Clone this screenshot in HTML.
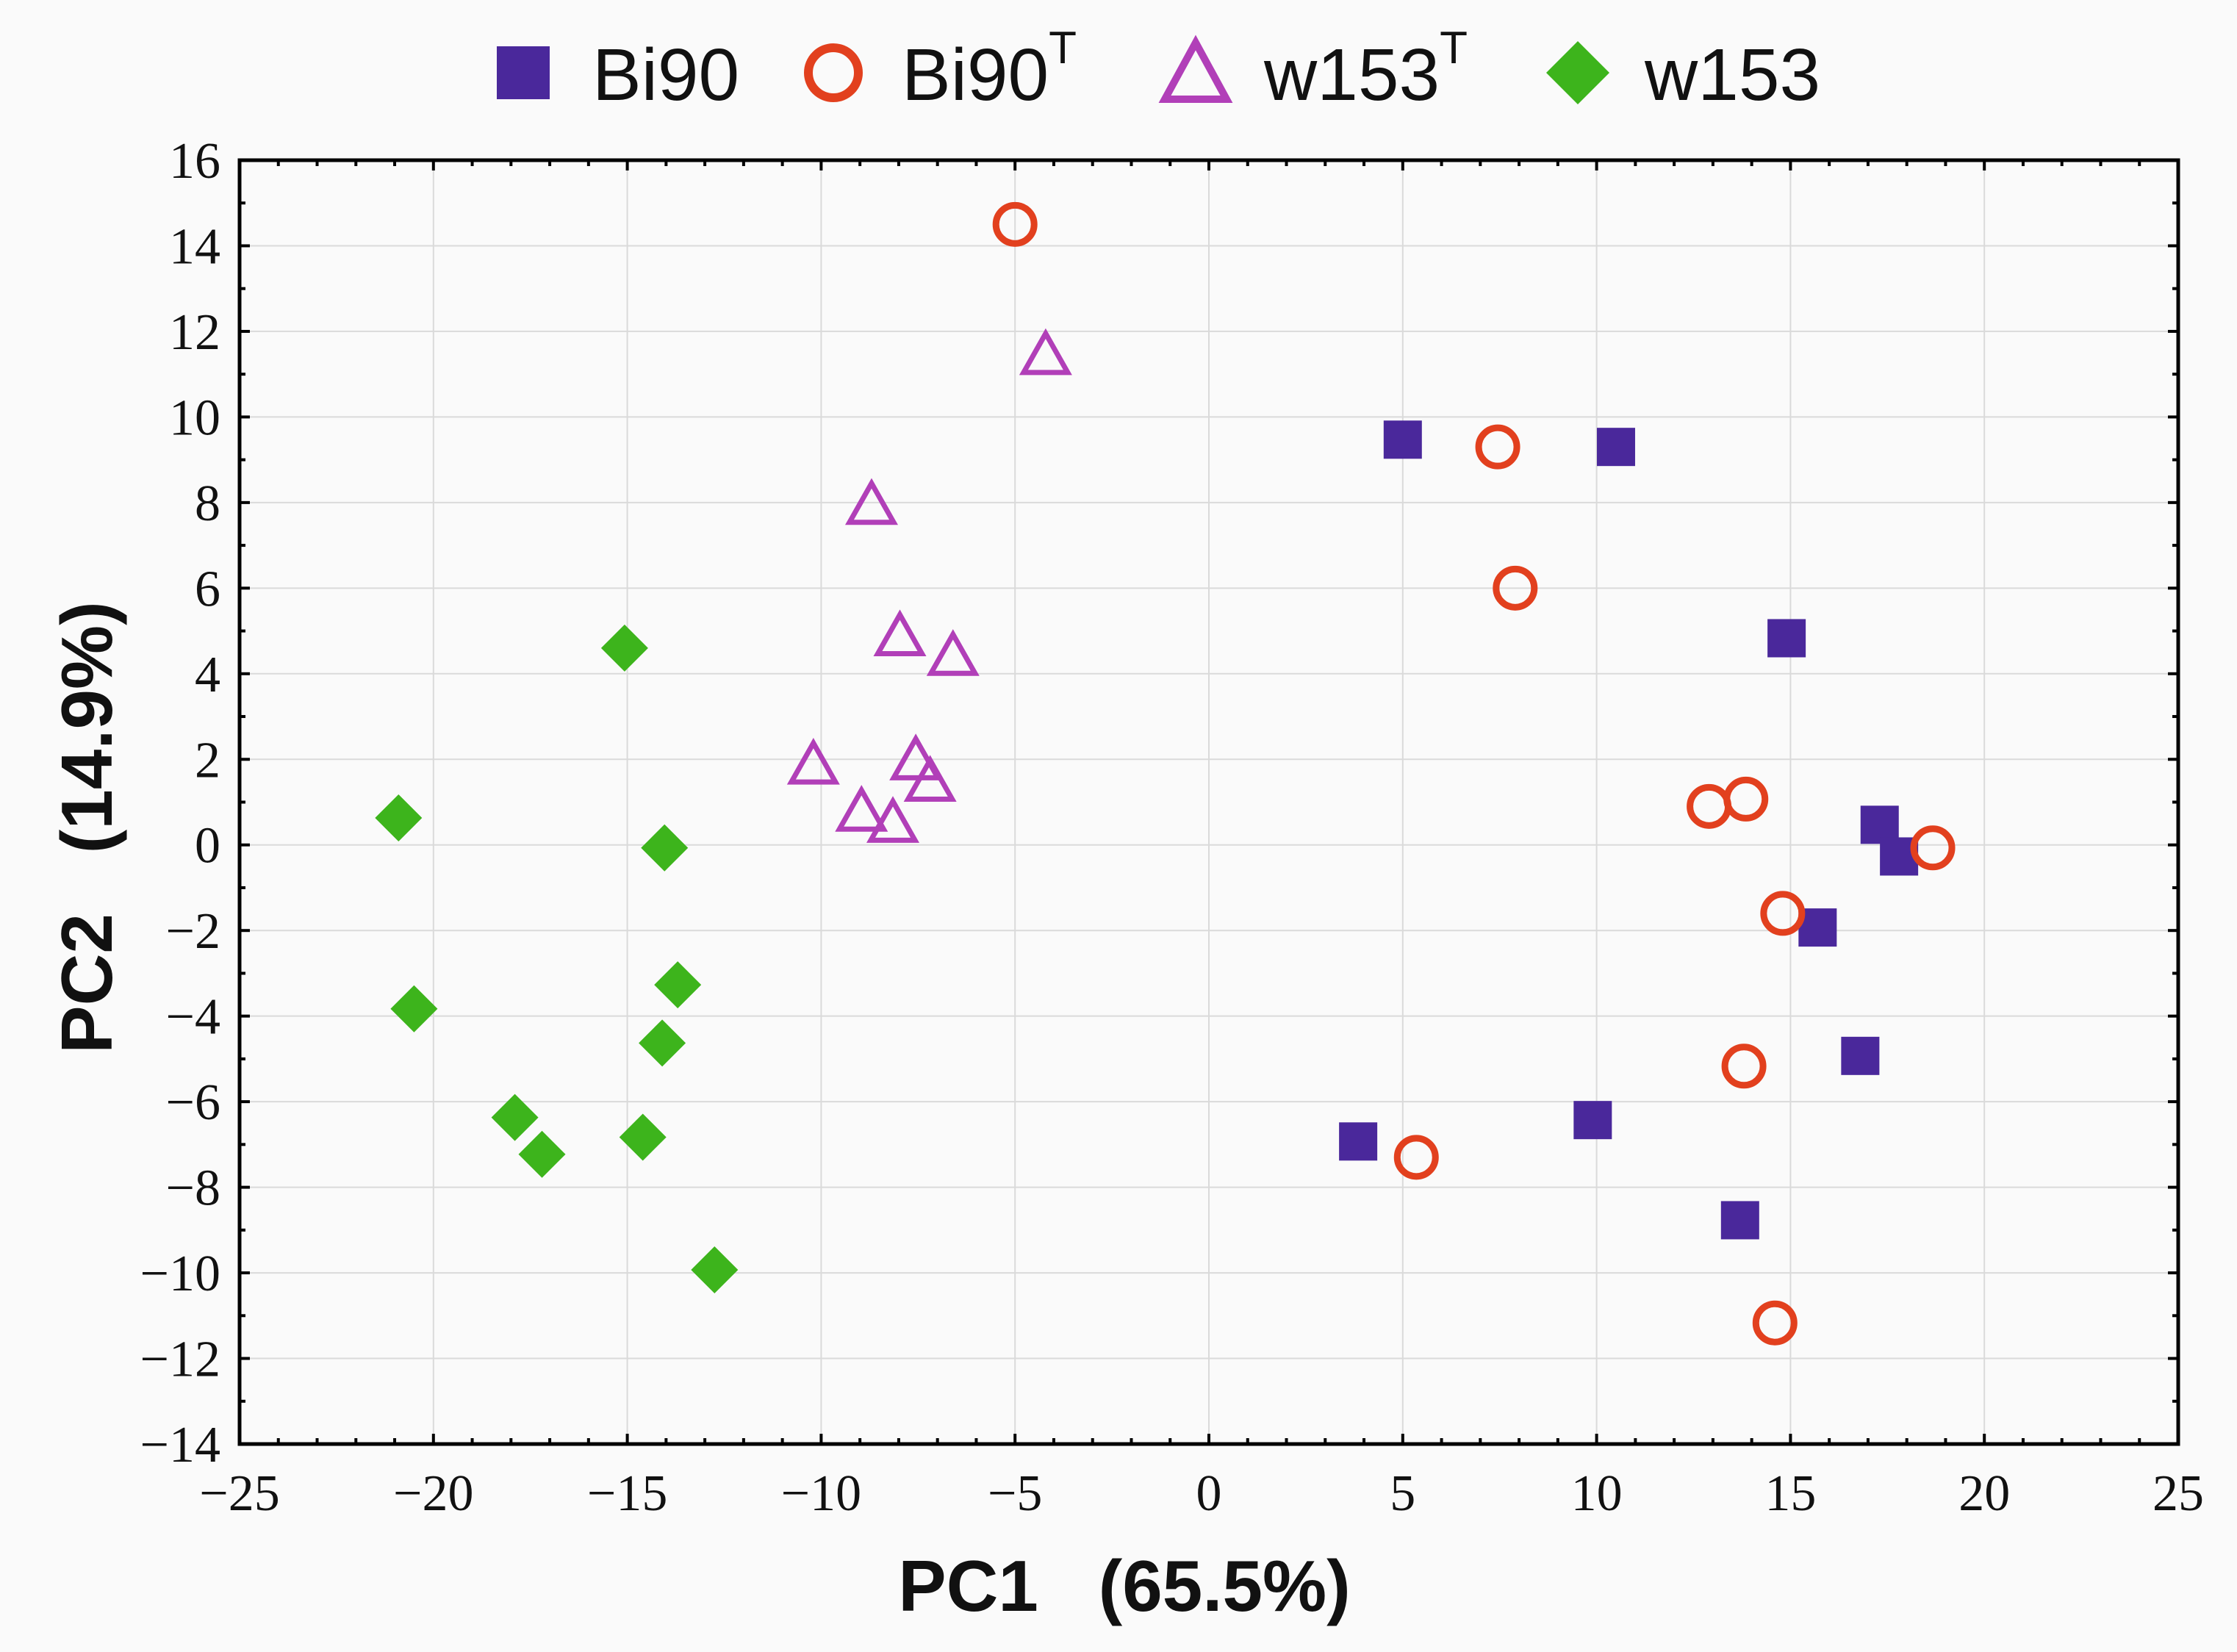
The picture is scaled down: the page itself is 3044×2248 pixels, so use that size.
<!DOCTYPE html>
<html><head><meta charset="utf-8"><style>
html,body{margin:0;padding:0;background:#fafafa;}
svg{display:block;}
</style></head><body>
<svg id="chart" width="3044" height="2248" viewBox="0 0 3044 2248" xmlns="http://www.w3.org/2000/svg">
<rect x="0" y="0" width="3044" height="2248" fill="#fafafa"/>
<g id="grid"></g>
<g id="ticks"></g>
<g id="marks"></g>
<rect x="326" y="218" width="2638" height="1747" fill="none" stroke="#000" stroke-width="5"/>
<g id="legend" font-family="Liberation Sans, sans-serif" font-size="100" fill="#111">
  <rect x="676" y="63" width="72" height="72" fill="#4a289b"/>
  <text x="806" y="136">Bi90</text>
  <circle cx="1134" cy="99" r="34" fill="none" stroke="#e2401e" stroke-width="12"/>
  <text x="1227" y="136">Bi90<tspan font-size="62" dy="-50">T</tspan></text>
  <polygon points="1627,58 1669,135 1585,135" fill="none" stroke="#b13fb8" stroke-width="10"/>
  <text x="1720" y="136">w153<tspan font-size="62" dy="-50">T</tspan></text>
  <polygon points="2147,56 2190,99 2147,142 2104,99" fill="#3db41c"/>
  <text x="2238" y="136">w153</text>
</g>
<text x="1530" y="2192" text-anchor="middle" font-family="Liberation Sans, sans-serif" font-weight="bold" font-size="98" fill="#111" xml:space="preserve">PC1   (65.5%)</text>
<text transform="translate(152,1126) rotate(-90)" text-anchor="middle" font-family="Liberation Sans, sans-serif" font-weight="bold" font-size="98" fill="#111" xml:space="preserve">PC2   (14.9%)</text>
</svg>
<script>
const xTicks=[-25,-20,-15,-10,-5,0,5,10,15,20,25];
const yTicks=[-14,-12,-10,-8,-6,-4,-2,0,2,4,6,8,10,12,14,16];
const bi90X=[5.0,10.5,14.9,17.3,17.8,15.7,16.8,9.9,3.85,13.7];
const bi90Y=[9.47,9.3,4.83,0.47,-0.27,-1.93,-4.93,-6.43,-6.93,-8.77];
const bi90tX=[-5.0,7.45,7.9,12.9,13.85,18.67,14.8,13.8,5.35,14.6];
const bi90tY=[14.5,9.3,6.0,0.9,1.07,-0.07,-1.6,-5.17,-7.3,-11.17];
const w153tX=[-4.21,-8.7,-7.97,-6.6,-10.2,-7.56,-7.19,-8.96,-8.15];
const w153tY=[11.4,7.9,4.83,4.37,1.83,1.93,1.43,0.73,0.47];
const w153X=[-15.07,-20.9,-14.04,-13.7,-20.5,-14.1,-17.9,-17.2,-14.6,-12.75];
const w153Y=[4.6,0.63,-0.07,-3.27,-3.83,-4.63,-6.37,-7.23,-6.83,-9.93];

const L=326,R=2964,T=218,B=1965,xmin=-25,xmax=25,ymin=-14,ymax=16;
const sx=v=>L+(v-xmin)/(xmax-xmin)*(R-L);
const sy=v=>B-(v-ymin)/(ymax-ymin)*(B-T);
const NS='http://www.w3.org/2000/svg';
function mk(tag,attrs,parent){const e=document.createElementNS(NS,tag);for(const k in attrs)e.setAttribute(k,attrs[k]);parent.appendChild(e);return e;}
const grid=document.getElementById('grid'),ticks=document.getElementById('ticks'),marks=document.getElementById('marks');
const fmt=v=>v<0?'\u2212'+Math.abs(v):String(v);

xTicks.forEach(v=>{
  const x=sx(v);
  if(v>xmin&&v<xmax){const g=mk('line',{x1:x,x2:x,y1:T,y2:B,stroke:'#dadada','stroke-width':2},grid);
  
  }
  const t=mk('text',{x:x,y:2055,'text-anchor':'middle','font-family':'Liberation Serif, serif','font-size':70,fill:'#111'},ticks);
  t.textContent=fmt(v);
  
  
});
yTicks.forEach(v=>{
  const y=sy(v);
  if(v>ymin&&v<ymax){const g=mk('line',{x1:L,x2:R,y1:y,y2:y,stroke:'#dadada','stroke-width':2},grid);
  
  }
  const t=mk('text',{x:300,y:y+24,'text-anchor':'end','font-family':'Liberation Serif, serif','font-size':70,fill:'#111'},ticks);
  t.textContent=fmt(v);
  
  
});
for(let v=xmin;v<=xmax;v++){
  const x=sx(v),len=(v%5===0)?14:8;
  mk('line',{x1:x,x2:x,y1:B,y2:B-len,stroke:'#000','stroke-width':4},ticks);
  mk('line',{x1:x,x2:x,y1:T,y2:T+len,stroke:'#000','stroke-width':4},ticks);
}
for(let v=ymin;v<=ymax;v++){
  const y=sy(v),len=(v%2===0)?14:8;
  mk('line',{x1:L,x2:L+len,y1:y,y2:y,stroke:'#000','stroke-width':4},ticks);
  mk('line',{x1:R,x2:R-len,y1:y,y2:y,stroke:'#000','stroke-width':4},ticks);
}
bi90X.forEach((v,i)=>{
  const x=sx(v),y=sy(bi90Y[i]);
  const e=mk('rect',{x:x-26,y:y-26,width:52,height:52,fill:'#4a289b'},marks);
  
  
});
bi90tX.forEach((v,i)=>{
  const x=sx(v),y=sy(bi90tY[i]);
  const e=mk('circle',{cx:x,cy:y,r:26,fill:'none',stroke:'#e2401e','stroke-width':9},marks);
  
  
});
w153tX.forEach((v,i)=>{
  const x=sx(v),y=sy(w153tY[i]);
  const e=mk('polygon',{points:`${x},${y-32} ${x+30},${y+21} ${x-30},${y+21}`,fill:'none',stroke:'#b13fb8','stroke-width':7},marks);
  
  
});
w153X.forEach((v,i)=>{
  const x=sx(v),y=sy(w153Y[i]);
  const e=mk('polygon',{points:`${x},${y-32} ${x+32},${y} ${x},${y+32} ${x-32},${y}`,fill:'#3db41c'},marks);
  
  
});
</script>
</body></html>
